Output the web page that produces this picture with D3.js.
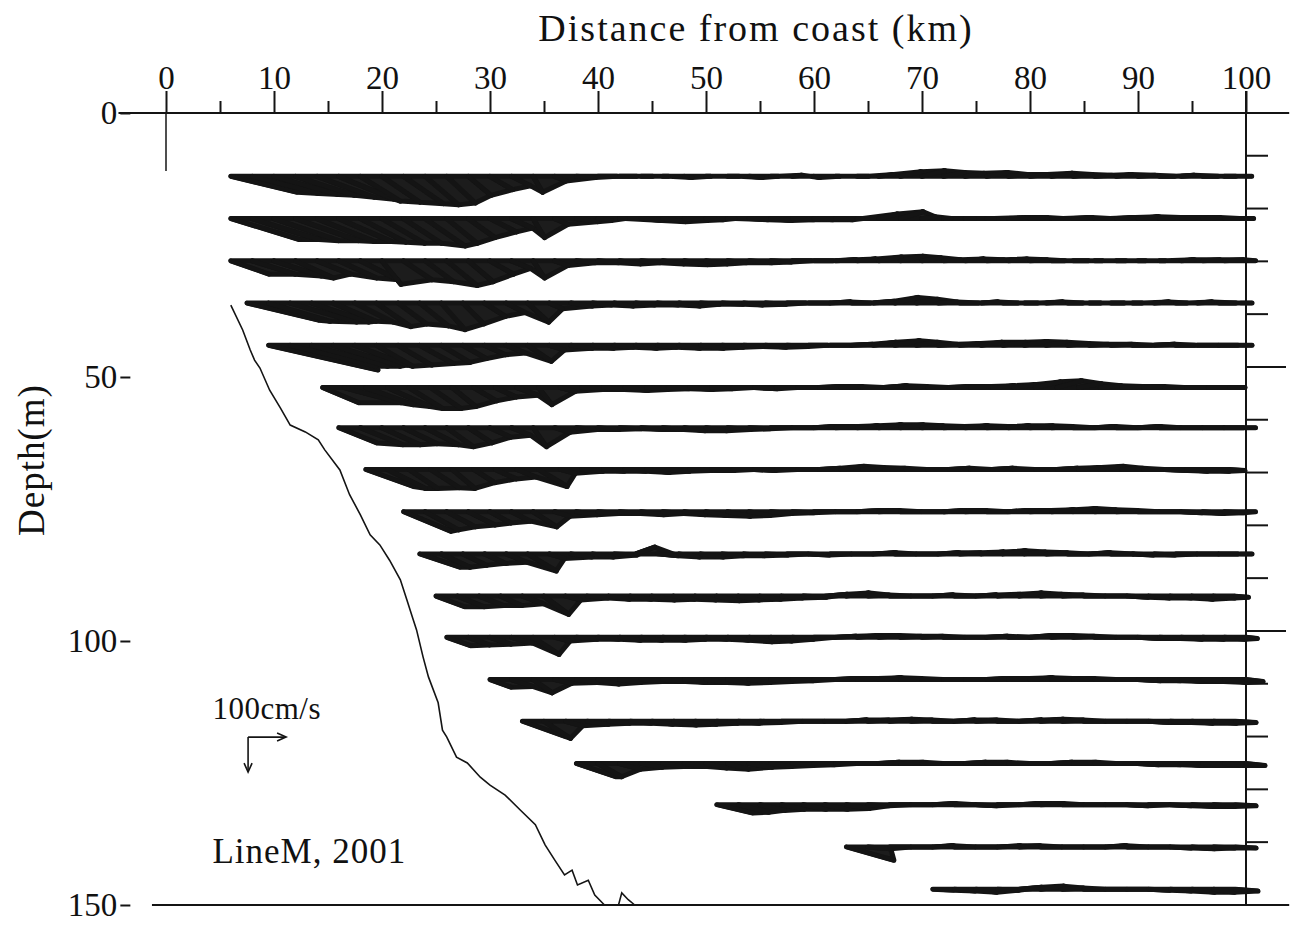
<!DOCTYPE html>
<html>
<head>
<meta charset="utf-8">
<script src="https://cdn.jsdelivr.net/npm/d3@7"></script>
<style>
body { margin: 0; background: #fff; }
text { font-family: "Liberation Serif", "DejaVu Serif", serif; fill: #111; }
</style>
</head>
<body>
<div id="chart"></div>
<script>
// axis ticks
var xTicks = [0, 10, 20, 30, 40, 50, 60, 70, 80, 90, 100];
var xMinor = [5, 15, 25, 35, 45, 55, 65, 75, 85, 95];
var yTicks = [0, 50, 100, 150];
var rightTicks = [8, 18, 28, 38, 48, 58, 68, 78, 88, 98, 108, 118, 128, 138];
var rightLong = [48, 98];

// current meter rows: depth (m) and first station (km), sticks every 2 km
var depths = [12, 20, 28, 36, 44, 52, 59.6, 67.5, 75.5, 83.5, 91.5, 99.3, 107.3, 115.2, 123.2, 131, 139, 147];
var startKm = [6, 6, 6, 7.5, 9.5, 14.5, 16, 18.5, 22, 23.5, 25, 26, 30, 33, 38, 51, 63, 71];
var stepKm = 2;

// u: cm/s to the right, v: cm/s downward (see the 100cm/s key)
var u = [
  [175,175,170,155,150,145, 105,100,105,88,75,60, 60,50,25,30,50,50, 45,30,15,20,12,30, 35,20,25,15,10,30, 40,55,60,55,50,55, 50,45,55,50,45,40, 45,40,35,40,30,15],
  [180,175,170,165,150,138, 120,112,100,105,80,70, 70,55,30,35,55,35, 15,55,60,60,45,20, 50,55,55,50,45,15, 50,60,35,20,25,20, 50,45,30,50,40,50, 55,55,50,45,40,20],
  [100,112,125,100,88,100, 100,50,75,75,80,65, 62,50,30,35,50,55, 55,50,55,60,55,50, 60,55,50,50,55,50, 60,60,50,45,50,45, 50,45,35,40,20,25, 20,15,35,45,50,25],
  [188,162,175,150,112,100, 90,75,75,62,55,55, 50,55,35,55,50,50, 50,55,55,50,55,50, 55,50,55,55,50,55, 60,55,50,50,45,40, 35,45,40,30,35,25, 40,30,40,45,30],
  [288,225,200,175,138,95, 88,88,75,62,55,50, 62,40,55,55,50,55, 50,55,60,55,50,55, 55,50,55,55,60,65, 55,50,55,55,60,60, 55,55,50,55,50,55, 50,55,50,30],
  [95,150,125,112,88,80, 62,60,55,55,35,40, 55,55,60,55,55,60, 55,55,60,55,55,60, 55,55,60,55,55,60, 55,60,60,65,65,60, 55,55,55,50,55,55, 40],
  [100,112,100,88,88,70, 62,55,50,35,40,55, 55,55,60,55,55,55, 60,55,55,55,55,60, 55,60,60,55,55,60, 55,55,60,55,55,55, 55,60,55,55,55,50, 25],
  [125,100,75,75,60,55, 55,50,75,40,55,55, 55,60,55,55,60,55, 55,55,60,55,60,55, 55,55,55,55,55,55, 55,55,55,60,60,55, 55,60,55,55,40],
  [125,88,75,70,55,50, 62,40,55,55,55,60, 55,55,55,60,55,55, 55,55,55,60,55,55, 60,55,55,55,55,55, 60,60,55,55,55,55, 55,55,50,25],
  [105,75,62,55,55,75, 40,55,55,60,50,55, 55,60,55,55,60,55, 55,55,55,60,55,55, 55,55,60,60,55,55, 55,55,60,55,55,55, 55,50,30],
  [75,70,65,55,55,65, 40,55,55,55,60,55, 55,60,55,55,55,60, 60,60,55,55,55,55, 55,55,60,60,55,55, 55,55,55,55,55,55, 55,35],
  [62,55,55,55,68,40, 55,55,55,55,60,55, 55,55,60,55,55,55, 55,60,55,55,55,55, 55,55,60,60,55,55, 55,55,55,55,55,55, 55,30],
  [55,55,50,45,55,55, 55,55,60,55,55,55, 55,55,55,55,55,55, 60,55,55,55,55,55, 55,60,55,55,55,55, 60,55,55,55,60,45],
  [112,70,45,55,55,55, 55,60,55,55,55,55, 55,55,55,55,55,60, 55,55,55,55,55,60, 60,55,55,55,55,55, 55,55,60,55],
  [105,62,55,55,55,60, 55,55,60,55,55,55, 55,55,55,60,55,55, 55,55,55,55,55,60, 55,55,55,55,55,55, 60,50],
  [95,80,65,60,60,60, 60,55,55,55,60,55, 55,55,55,60,55,55, 55,55,55,55,60,55, 55],
  [125,60,55,55,55,55, 55,60,55,55,55,55, 55,55,55,55,60,55, 55],
  [55,55,55,55,60,60, 55,55,55,55,55,55, 60,55,60]
];
var v = [
  [42,45,48,50,55,60, 65,68,72,75,70,50, 35,25,42,12,3,0, 0,0,0,3,0,0, 3,0,-3,3,0,0, -5,-12,-15,-10,-8,-10, -5,-5,-8,-5,-3,-5, -3,0,-3,0,0,0],
  [55,55,58,58,60,60, 62,65,65,72,65,50, 35,25,50,15,8,5, 0,5,8,5,3,0, 3,5,3,3,3,0, -12,-18,-5,0,0,0, -3,-3,0,-3,0,-3, -5,-3,-3,-3,0,0],
  [35,35,40,45,35,45, 50,62,50,55,65,55, 35,20,45,12,5,5, 8,5,8,10,8,5, 5,3,0,0,-3,-5, -10,-12,-8,-3,-5,-3, -5,-3,0,0,0,0, 0,0,-3,-3,-3,0],
  [45,48,50,50,48,50, 62,55,60,70,55,35, 25,50,15,8,5,8, 5,5,8,3,3,5, 3,0,0,-3,0,-5, -15,-10,-3,0,-3,0, 0,-3,0,0,0,0, -3,0,-3,0,0],
  [65,55,55,55,52,55, 52,48,45,35,25,20, 42,12,8,8,5,8, 5,8,8,5,3,5, 3,0,0,-3,-8,-12, -8,-3,-5,-8,-8,-10, -8,-5,-3,-3,0,-3, 0,0,0,0],
  [40,40,45,50,55,55, 50,35,25,20,45,10, 5,5,8,5,3,5, 3,0,3,0,0,-3, -3,0,-5,-3,0,-3, -3,-5,-8,-15,-18,-10, -5,-3,-3,0,0,0, 0],
  [40,45,45,42,45,50, 40,25,20,50,12,5, 5,3,5,5,8,8, 5,3,0,0,-3,-3, -5,-8,-8,-5,-3,-5, -3,-5,-5,-3,0,-3, 0,-3,0,0,0,0, 0],
  [45,50,50,48,50,35, 25,20,45,10,5,5, 5,8,5,3,3,0, 3,0,0,-3,-8,-5, -3,0,0,-3,0,-3, 0,0,-3,-5,-8,-3, 0,3,5,5,3],
  [52,48,40,35,30,25, 40,12,8,5,5,8, 5,8,10,12,10,5, 3,0,0,-3,-3,0, 0,-3,-3,0,-3,-3, -5,-8,-5,-3,0,0, 3,5,3,0],
  [35,35,30,25,22,45, 12,8,8,3,-18,5, 8,8,5,5,3,0, 3,0,0,-3,0,0, -3,-3,-5,-8,-5,-3, 0,-3,0,3,3,0, 0,0,0],
  [28,28,25,25,20,48, 10,5,8,8,10,8, 10,12,10,8,5,3, -5,-8,-3,0,0,-3, 0,-3,-5,-8,-5,-3, 0,0,3,5,5,8, 5,3],
  [22,20,18,15,45,10, 5,5,8,8,8,5, 5,8,12,10,5,0, -3,-5,-5,-3,-3,0, 0,-3,0,-5,-5,-3, 0,0,3,3,5,5, 5,3],
  [20,18,35,10,8,12, 8,5,5,8,8,10, 8,5,3,0,-3,-3, -5,-3,0,0,0,-3, -3,-5,-3,-3,0,0, 3,3,5,5,8,5],
  [40,45,12,8,5,5, 8,10,8,5,5,3, 0,0,0,-3,-3,-5, -3,0,-3,-3,0,-3, -5,-3,0,0,0,3, 3,5,5,3],
  [35,35,15,10,8,8, 12,15,10,8,5,3, 0,0,-3,-3,0,0, -3,-3,0,0,-3,-3, 0,0,3,3,5,5, 5,5],
  [22,20,15,12,12,12, 10,3,0,0,-3,0, 3,0,-3,-3,0,0, 0,3,0,3,5,5, 3],
  [35,5,0,0,-3,0, 0,-3,-3,0,0,0, -3,0,0,3,5,3, 3],
  [3,5,8,3,-5,-8, -3,0,0,0,3,5, 8,8,5]
];

// bottom profile
var coastKm = [6.0, 7.1, 7.8, 8.2, 8.7, 9.6, 10.6, 11.5, 12.9, 14.1, 14.7, 16.1, 17.0, 18.0, 18.9, 19.8, 20.7, 21.7, 22.3, 22.9, 23.2, 23.8, 24.3, 25.2, 25.6, 26.0, 26.9, 27.9, 29.1, 30.0, 31.4, 32.8, 34.2, 35.1, 36.0, 36.9, 37.6, 38.1, 39.1, 39.7, 40.6, 41.9, 42.2, 42.8, 43.4];
var coastDepth = [36.4, 41.1, 44.9, 46.8, 48.3, 52.5, 55.9, 59.1, 60.4, 61.9, 63.8, 67.6, 72.3, 76.1, 79.9, 81.8, 84.7, 88.4, 92.2, 96.0, 97.9, 103.0, 106.8, 111.7, 116.9, 118.2, 122.0, 123.1, 125.8, 127.3, 129.2, 132.0, 134.8, 138.6, 141.5, 144.3, 143.4, 146.2, 145.3, 148.1, 150, 150, 147.7, 149, 150];

var width = 1295,
    height = 929;

var x = d3.scaleLinear().domain([0, 100]).range([166, 1246]);
var y = d3.scaleLinear().domain([0, 150]).range([113, 905]);
var speed = d3.scaleLinear().domain([0, 100]).range([0, 38]);

var svg = d3.select('#chart').append("svg")
    .attr("width", width)
    .attr("height", height);

var ink = "#141414";

// frame lines
svg.append("line")
    .attr("x1", x(-4.4)).attr("x2", x(104))
    .attr("y1", y(0)).attr("y2", y(0))
    .attr("stroke", ink).attr("stroke-width", 2);
svg.append("line")
    .attr("x1", x(-1.3)).attr("x2", x(104))
    .attr("y1", y(150)).attr("y2", y(150))
    .attr("stroke", ink).attr("stroke-width", 2);
svg.append("line")
    .attr("x1", x(100)).attr("x2", x(100))
    .attr("y1", y(0) - 22).attr("y2", y(150))
    .attr("stroke", ink).attr("stroke-width", 2);
svg.append("line")
    .attr("x1", x(0)).attr("x2", x(0))
    .attr("y1", y(0)).attr("y2", y(11))
    .attr("stroke", ink).attr("stroke-width", 1.5);

// top axis
svg.append("g")
    .attr("transform", "translate(0," + y(0) + ")")
    .call(d3.axisTop(x).tickValues(xTicks).tickSize(22).tickPadding(2).tickFormat(d3.format("d")));
svg.append("g")
    .attr("transform", "translate(0," + y(0) + ")")
    .call(d3.axisTop(x).tickValues(xMinor).tickSize(12).tickFormat(""));

// left labels
svg.append("g")
    .attr("transform", "translate(" + x(-3.3) + ",0)")
    .call(d3.axisLeft(y).tickValues(yTicks).tickSize(10).tickPadding(3).tickFormat(d3.format("d")));

// right ticks
svg.append("g")
    .attr("transform", "translate(" + x(100) + ",0)")
    .call(d3.axisRight(y).tickValues(rightTicks.filter(function(d) { return rightLong.indexOf(d) < 0; })).tickSize(22).tickFormat(""));
svg.append("g")
    .attr("transform", "translate(" + x(100) + ",0)")
    .call(d3.axisRight(y).tickValues(rightLong).tickSize(40).tickFormat(""));

svg.selectAll(".domain").remove();
svg.selectAll(".tick line").attr("stroke", ink).attr("stroke-width", 2);
svg.selectAll(".tick text").attr("font-size", 33)
    .style("font-family", "'Liberation Serif', serif").attr("fill", ink);

// titles
svg.append("text")
    .attr("x", 756).attr("y", 41)
    .attr("text-anchor", "middle")
    .attr("font-size", 38)
    .attr("letter-spacing", 2)
    .text("Distance from coast (km)");

svg.append("text")
    .attr("transform", "translate(44,460) rotate(-90)")
    .attr("text-anchor", "middle")
    .attr("font-size", 37)
    .attr("letter-spacing", 1)
    .text("Depth(m)");

// bottom profile
var profile = d3.line()
    .x(function(d, i) { return x(coastKm[i]); })
    .y(function(d, i) { return y(coastDepth[i]); });

svg.append("path")
    .attr("d", profile(coastKm))
    .attr("fill", "none")
    .attr("stroke", ink)
    .attr("stroke-width", 1.6);

// stick vectors
var sticks = [];
depths.forEach(function(dep, r) {
    u[r].forEach(function(val, i) {
        sticks.push({row: r, km: startKm[r] + i * stepKm, depth: dep, u: val, v: v[r][i]});
    });
});

function base(d) { return [x(d.km), y(d.depth)]; }
function tip(d) { return [x(d.km) + speed(d.u), y(d.depth) + speed(d.v)]; }

// neighbouring sticks drawn so closely in the original that they merge into a band
var pairs = [];
sticks.forEach(function(d, i) {
    var nx = sticks[i + 1];
    if (nx && nx.row === d.row) pairs.push([d, nx]);
});

svg.append("g").selectAll("path")
    .data(pairs)
    .enter().append("path")
    .attr("d", function(p) {
        return "M" + base(p[0]) + "L" + tip(p[0]) + "L" + tip(p[1]) + "L" + base(p[1]) + "Z";
    })
    .attr("fill", "#1c1c1c")
    .attr("stroke", ink)
    .attr("stroke-width", 5)
    .attr("stroke-linejoin", "round");

svg.append("g").selectAll("line")
    .data(sticks)
    .enter().append("line")
    .attr("x1", function(d) { return base(d)[0]; })
    .attr("y1", function(d) { return base(d)[1]; })
    .attr("x2", function(d) { return tip(d)[0]; })
    .attr("y2", function(d) { return tip(d)[1]; })
    .attr("stroke", ink)
    .attr("stroke-width", 4.5)
    .attr("stroke-linecap", "round");

// velocity key
var kx = x(7.6), ky = y(118.2);
svg.append("text")
    .attr("x", x(4.3)).attr("y", y(114.8))
    .attr("font-size", 31)
    .attr("letter-spacing", 0.5)
    .text("100cm/s");

svg.append("line")
    .attr("x1", kx).attr("y1", ky)
    .attr("x2", kx + speed(100)).attr("y2", ky)
    .attr("stroke", ink).attr("stroke-width", 1.6);
svg.append("line")
    .attr("x1", kx).attr("y1", ky)
    .attr("x2", kx).attr("y2", ky + speed(100) * 0.92)
    .attr("stroke", ink).attr("stroke-width", 1.6);
svg.append("path")
    .attr("d", "M" + (kx + speed(100) - 9) + "," + (ky - 4) + "L" + (kx + speed(100)) + "," + ky + "L" + (kx + speed(100) - 9) + "," + (ky + 4))
    .attr("fill", "none").attr("stroke", ink).attr("stroke-width", 1.6);
svg.append("path")
    .attr("d", "M" + (kx - 4) + "," + (ky + speed(100) * 0.92 - 9) + "L" + kx + "," + (ky + speed(100) * 0.92) + "L" + (kx + 4) + "," + (ky + speed(100) * 0.92 - 9))
    .attr("fill", "none").attr("stroke", ink).attr("stroke-width", 1.6);

svg.append("text")
    .attr("x", x(4.3)).attr("y", y(142))
    .attr("font-size", 35)
    .attr("letter-spacing", 1)
    .text("LineM, 2001");
</script>
</body>
</html>
